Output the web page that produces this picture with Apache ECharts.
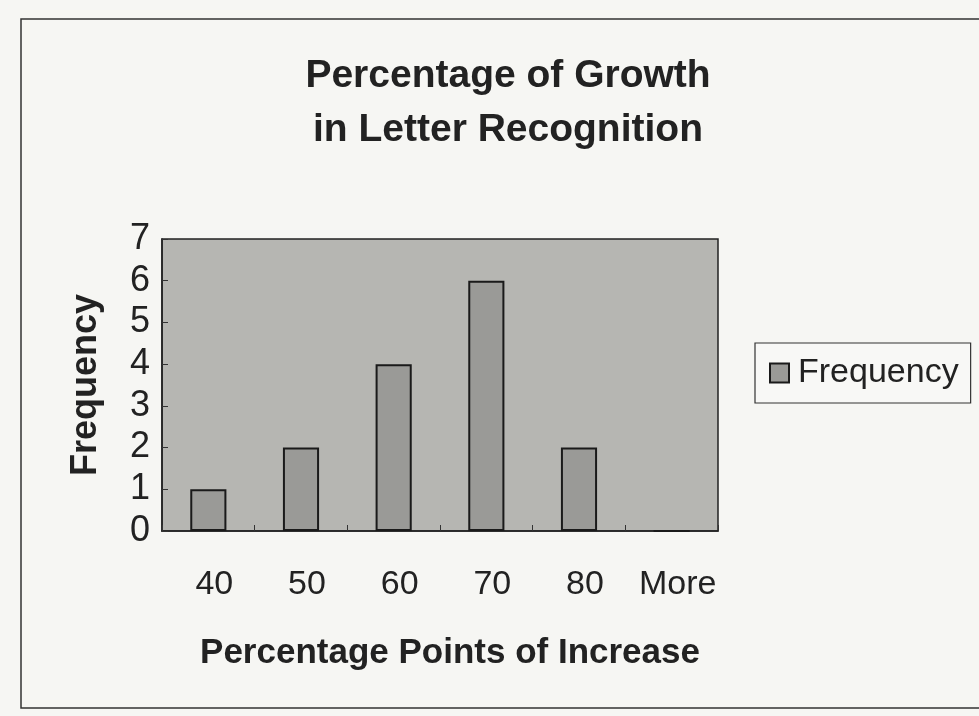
<!DOCTYPE html>
<html>
<head>
<meta charset="utf-8">
<script src="https://cdn.jsdelivr.net/npm/echarts@6/dist/echarts.min.js"></script>
<style>
  html, body { margin: 0; padding: 0; background: #f6f6f3; }
  #chart { width: 979px; height: 716px; }
</style>
</head>
<body>
<div id="chart"></div>
<script>
// Histogram bins (percentage points of increase) and their counts
const categories = ['40', '50', '60', '70', '80', 'More'];
const frequency = [1, 2, 4, 6, 2, 0];
const yTicks = [0, 1, 2, 3, 4, 5, 6, 7];

const chart = echarts.init(document.getElementById('chart'));
const FONT = '"Liberation Sans", Arial, sans-serif';

chart.setOption({
  backgroundColor: '#f6f6f3',
  animation: false,
  graphic: [{
    type: 'rect',
    shape: { x: 21, y: 19, width: 1000, height: 689 },
    style: { fill: 'none', stroke: '#333', lineWidth: 1.5 },
    z: -1
  }],
  title: {
    text: 'Percentage of Growth\nin Letter Recognition',
    left: 503,
    top: 44,
    textAlign: 'center',
    textStyle: {
      fontFamily: FONT,
      fontWeight: 'bold',
      fontSize: 39,
      lineHeight: 54,
      color: '#222'
    }
  },
  legend: {
    data: ['Frequency'],
    left: 755,
    top: 343,
    orient: 'vertical',
    icon: 'rect',
    itemWidth: 19,
    itemHeight: 19,
    itemGap: 0,
    padding: [13, 12, 13, 14],
    borderColor: '#333',
    borderWidth: 1.2,
    backgroundColor: '#f8f8f6',
    textStyle: { fontFamily: FONT, fontSize: 34, color: '#222', padding: [0, 0, 0, 4] }
  },
  grid: {
    left: 162,
    right: 261,
    top: 239,
    bottom: 185,
    show: true,
    backgroundColor: '#b6b6b2',
    borderColor: '#222',
    borderWidth: 1.5
  },
  xAxis: {
    type: 'category',
    data: categories,
    name: 'Percentage Points of Increase',
    nameLocation: 'middle',
    nameGap: 105,
    nameTextStyle: {
      fontFamily: FONT, fontWeight: 'bold', fontSize: 35, color: '#222',
      padding: [0, 0, 0, 20]
    },
    axisLine: { show: true, lineStyle: { color: '#222', width: 1.5 } },
    axisTick: { show: true, inside: true, length: 6, interval: 0, lineStyle: { color: '#333' } },
    axisLabel: {
      interval: 0,
      hideOverlap: false,
      fontFamily: FONT, fontSize: 34, color: '#222', margin: 37,
      padding: [0, 0, 0, 12]
    }
  },
  yAxis: {
    type: 'value',
    min: yTicks[0],
    max: yTicks[yTicks.length - 1],
    interval: 1,
    name: 'Frequency',
    nameLocation: 'middle',
    nameGap: 58,
    nameTextStyle: { fontFamily: FONT, fontWeight: 'bold', fontSize: 36, color: '#222' },
    axisLine: { show: true, lineStyle: { color: '#222', width: 1.5 } },
    axisTick: { show: true, inside: true, length: 6, lineStyle: { color: '#333' } },
    splitLine: { show: false },
    axisLabel: { fontFamily: FONT, fontSize: 36, color: '#222', margin: 12 }
  },
  series: [{
    name: 'Frequency',
    type: 'bar',
    data: frequency,
    barWidth: '39%',
    itemStyle: {
      color: '#9a9a97',
      borderColor: '#1a1a1a',
      borderWidth: 2
    }
  }]
});
</script>
</body>
</html>
